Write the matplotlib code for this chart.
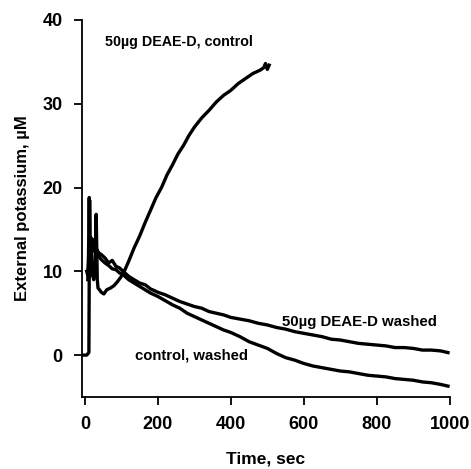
import matplotlib
matplotlib.use("Agg")
import matplotlib.pyplot as plt

plt.rcParams["font.family"] = ["Liberation Sans", "DejaVu Sans"]

# 50ug DEAE-D, control
t_ctrl = [-5, 5, 11, 12, 13, 15, 17, 20, 24, 28, 31, 34, 36, 40, 45, 52, 60, 70, 80, 90,
          100, 110, 120, 135, 150, 165, 180, 195, 210, 225, 240, 255, 270, 285, 300,
          320, 340, 360, 380, 400, 420, 440, 460, 480, 490, 495, 500, 505]
v_ctrl = [0, 0, 0.3, 10, 18.5, 9.5, 13, 10, 9, 11, 16.8, 9, 8, 7.8, 7.5, 7.3, 7.8, 8.0, 8.3, 8.8,
          9.4, 10.2, 11.2, 12.8, 14.2, 15.8, 17.3, 18.8, 20.0, 21.5, 22.7, 24.0, 25.0, 26.2, 27.2,
          28.3, 29.2, 30.2, 31.0, 31.6, 32.4, 33.0, 33.6, 34.0, 34.3, 34.8, 34.1, 34.6]

# 50ug DEAE-D washed
t_dw = [8, 10, 12, 14, 17, 20, 25, 30, 38, 45, 55, 65, 75, 85, 95, 105, 120, 135, 150, 165,
        180, 200, 220, 240, 260, 280, 300, 320, 340, 360, 380, 400, 425, 450, 475, 500, 525,
        550, 575, 600, 625, 650, 675, 700, 725, 750, 775, 800, 825, 850, 875, 900, 925, 950,
        975, 995]
v_dw = [9, 12, 18.8, 11, 14, 12.5, 13.8, 12.8, 12.2, 12.0, 11.6, 11.0, 11.3, 10.6, 10.4, 10.0,
        9.4, 9.0, 8.6, 8.4, 7.9, 7.5, 7.2, 6.8, 6.4, 6.1, 5.8, 5.6, 5.2, 5.0, 4.8, 4.5, 4.3,
        4.1, 3.8, 3.6, 3.3, 3.1, 2.8, 2.6, 2.4, 2.2, 1.9, 1.8, 1.6, 1.4, 1.3, 1.2, 1.1, 0.9,
        0.9, 0.8, 0.6, 0.6, 0.5, 0.3]

# control, washed
t_cw = [5, 8, 12, 16, 20, 25, 30, 38, 45, 55, 65, 75, 85, 95, 105, 120, 135, 150, 165, 180,
        200, 220, 240, 260, 280, 300, 320, 340, 360, 380, 400, 425, 450, 475, 500, 525, 550,
        575, 600, 625, 650, 675, 700, 725, 750, 775, 800, 825, 850, 875, 900, 925, 950, 975,
        995]
v_cw = [10, 9.5, 12, 14, 13, 12.4, 12.8, 11.8, 11.4, 11.0, 10.7, 10.3, 10.2, 9.8, 9.6, 9.0,
        8.6, 8.2, 7.8, 7.4, 7.0, 6.5, 6.0, 5.6, 5.0, 4.6, 4.2, 3.8, 3.4, 3.0, 2.7, 2.2, 1.6,
        1.2, 0.8, 0.2, -0.3, -0.6, -1.0, -1.3, -1.5, -1.7, -1.9, -2.0, -2.2, -2.4, -2.5, -2.6,
        -2.8, -2.9, -3.0, -3.2, -3.3, -3.5, -3.7]

x_ticks = [0, 200, 400, 600, 800, 1000]
y_ticks = [0, 10, 20, 30, 40]

fig = plt.figure(figsize=(4.71, 4.69), dpi=100)
ax = fig.add_axes([0.174, 0.1535, 0.781, 0.804])

for t, v in [(t_ctrl, v_ctrl), (t_dw, v_dw), (t_cw, v_cw)]:
    ax.plot(t, v, color="black", linewidth=2.4, solid_joinstyle="round")

ax.set_xlim(-8, 1000)
ax.set_ylim(-5, 40)
ax.set_xticks(x_ticks)
ax.set_yticks(y_ticks)
ax.spines["top"].set_visible(False)
ax.spines["right"].set_visible(False)
ax.spines["left"].set_linewidth(1.3)
ax.spines["bottom"].set_linewidth(1.3)
ax.tick_params(direction="out", length=6, width=1.3, pad=8, labelsize=13)
for lbl in ax.get_xticklabels() + ax.get_yticklabels():
    lbl.set_fontweight("bold")

ax.set_xlabel("Time, sec", fontsize=12.5, fontweight="bold", labelpad=13)
ax.set_ylabel("External potassium, µM", fontsize=12, fontweight="bold", labelpad=9)

ax.text(55, 37.4, "50µg DEAE-D, control", fontsize=10.3, fontweight="bold", va="center")
ax.text(540, 3.9, "50µg DEAE-D washed", fontsize=10.8, fontweight="bold", va="center")
ax.text(137, 0.0, "control, washed", fontsize=10.7, fontweight="bold", va="center")

plt.savefig("out.png", dpi=100)
